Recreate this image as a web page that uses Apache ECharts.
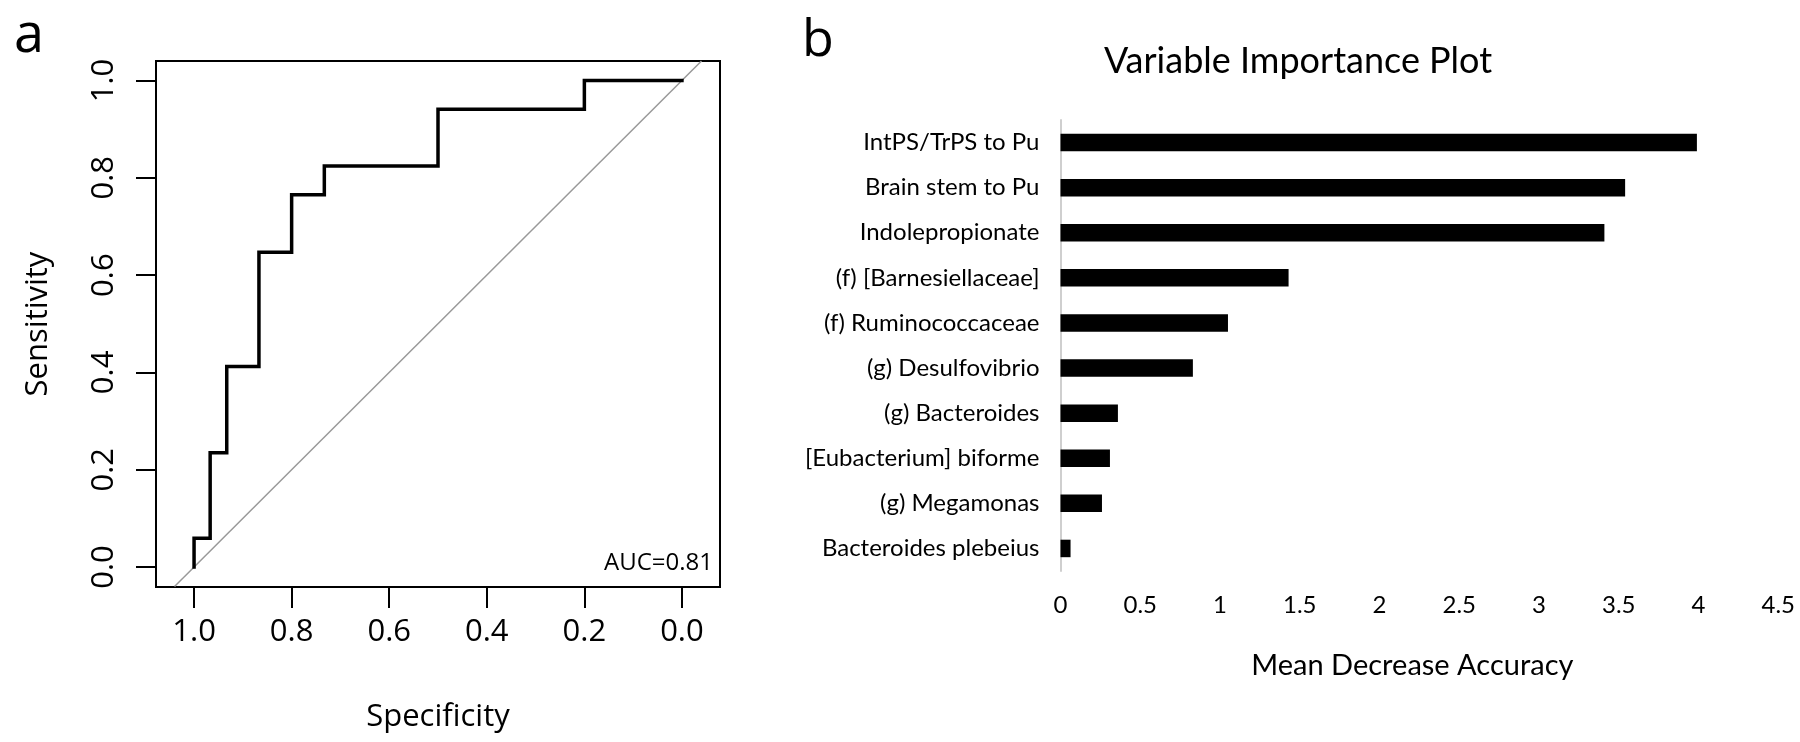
<!DOCTYPE html>
<html><head><meta charset="utf-8">
<script src="https://cdn.jsdelivr.net/npm/echarts@6/dist/echarts.min.js"></script>
<style>html,body{margin:0;padding:0;background:#fff}#c{width:1800px;height:742px}</style>
</head><body><div id="c"></div>
<script>
// Panel a: ROC curve (step points, specificity on x, sensitivity on y)
const rocSpecificity = [1.0, 1.0, 0.967, 0.967, 0.933, 0.933, 0.867, 0.867, 0.8, 0.8, 0.733, 0.733, 0.5, 0.5, 0.2, 0.2, 0.0];
const rocSensitivity = [0.0, 0.059, 0.059, 0.235, 0.235, 0.412, 0.412, 0.647, 0.647, 0.765, 0.765, 0.824, 0.824, 0.941, 0.941, 1.0, 1.0];
const refLineSpecificity = [1.04, -0.04];
const refLineSensitivity = [-0.04, 1.04];
const rocTicks = [0, 0.2, 0.4, 0.6, 0.8, 1.0];
const aucText = 'AUC=0.81';

// Panel b: variable importance
const variables = ['IntPS/TrPS to Pu', 'Brain stem to Pu', 'Indolepropionate', '(f) [Barnesiellaceae]', '(f) Ruminococcaceae', '(g) Desulfovibrio', '(g) Bacteroides', '[Eubacterium] biforme', '(g) Megamonas', 'Bacteroides plebeius'];
const importance = [3.99, 3.54, 3.41, 1.43, 1.05, 0.83, 0.36, 0.31, 0.26, 0.063];
const importanceTicks = [0, 0.5, 1, 1.5, 2, 2.5, 3, 3.5, 4, 4.5];

const fontA = '"Open Sans", "Noto Sans", sans-serif';
const fontB = 'Lato, "Open Sans", sans-serif';

const chart = echarts.init(document.getElementById('c'), null, {renderer: 'canvas'});
const rocData = rocSpecificity.map((s, i) => [s, rocSensitivity[i]]);
const refData = refLineSpecificity.map((s, i) => [s, refLineSensitivity[i]]);

chart.setOption({
  animation: false,
  backgroundColor: '#fff',
  title: {
    text: 'Variable Importance Plot',
    left: 1293, top: 38, textAlign: 'center',
    textStyle: {fontFamily: fontB, fontSize: 36, fontWeight: 'normal', color: '#000'}
  },
  graphic: [
    {type: 'text', left: 14, top: 10, style: {text: 'a', font: '54px ' + fontA, fill: '#000'}},
    {type: 'text', left: 802, top: 15, style: {text: 'b', font: '52px ' + fontA, fill: '#000'}},
    {type: 'text', right: 1800 - 713, top: 551, style: {text: aucText, font: '24px ' + fontA, fill: '#000', textAlign: 'right'}}
  ],
  grid: [
    {left: 156, top: 61, width: 564, height: 526, show: true, borderColor: '#000', borderWidth: 2, backgroundColor: 'transparent'},
    {left: 1060.5, top: 120, width: 717.75, height: 451}
  ],
  xAxis: [
    {
      gridIndex: 0, type: 'value', inverse: true, min: -0.078, max: 1.078,
      name: 'Specificity', nameLocation: 'middle', nameGap: 115,
      nameTextStyle: {fontFamily: fontA, fontSize: 31, color: '#000'},
      axisLine: {show: false, onZero: false},
      axisTick: {show: true, customValues: rocTicks, length: 21, lineStyle: {color: '#000', width: 2}},
      axisLabel: {customValues: rocTicks, formatter: v => v.toFixed(1), margin: 30, fontFamily: fontA, fontSize: 31, color: '#000'},
      splitLine: {show: false}
    },
    {
      gridIndex: 1, type: 'value', min: 0, max: 4.5, interval: 0.5,
      name: 'Mean Decrease Accuracy', nameLocation: 'middle', nameGap: 80,
      nameTextStyle: {fontFamily: fontB, fontSize: 29, color: '#000', padding: [0, 14, 0, 0]},
      axisLine: {show: false, onZero: false}, axisTick: {show: false},
      axisLabel: {margin: 22, fontFamily: fontB, fontSize: 24, color: '#000'},
      splitLine: {show: false}
    }
  ],
  yAxis: [
    {
      gridIndex: 0, type: 'value', min: -0.041, max: 1.04,
      name: 'Sensitivity', nameLocation: 'middle', nameGap: 102,
      nameTextStyle: {fontFamily: fontA, fontSize: 31, color: '#000'},
      axisLine: {show: false, onZero: false},
      axisTick: {show: true, customValues: rocTicks, length: 20, lineStyle: {color: '#000', width: 2}},
      axisLabel: {customValues: rocTicks, formatter: v => v.toFixed(1), rotate: 90, margin: 36, fontFamily: fontA, fontSize: 31, color: '#000'},
      splitLine: {show: false}
    },
    {
      gridIndex: 1, type: 'category', inverse: true, data: variables,
      axisLine: {show: true, onZero: false, lineStyle: {color: '#cfcfcf', width: 2}},
      axisTick: {show: false},
      axisLabel: {margin: 21, fontFamily: fontB, fontSize: 24, color: '#000'},
      splitLine: {show: false}
    }
  ],
  series: [
    {type: 'line', xAxisIndex: 0, yAxisIndex: 0, data: refData, showSymbol: false, clip: true,
     lineStyle: {color: '#999', width: 1.5}},
    {type: 'line', xAxisIndex: 0, yAxisIndex: 0, data: rocData, showSymbol: false,
     lineStyle: {color: '#000', width: 3.5, join: 'miter', cap: 'square'}},
    {type: 'bar', xAxisIndex: 1, yAxisIndex: 1, data: importance, barWidth: 17.5,
     itemStyle: {color: '#000'}}
  ]
});
</script>
</body></html>
